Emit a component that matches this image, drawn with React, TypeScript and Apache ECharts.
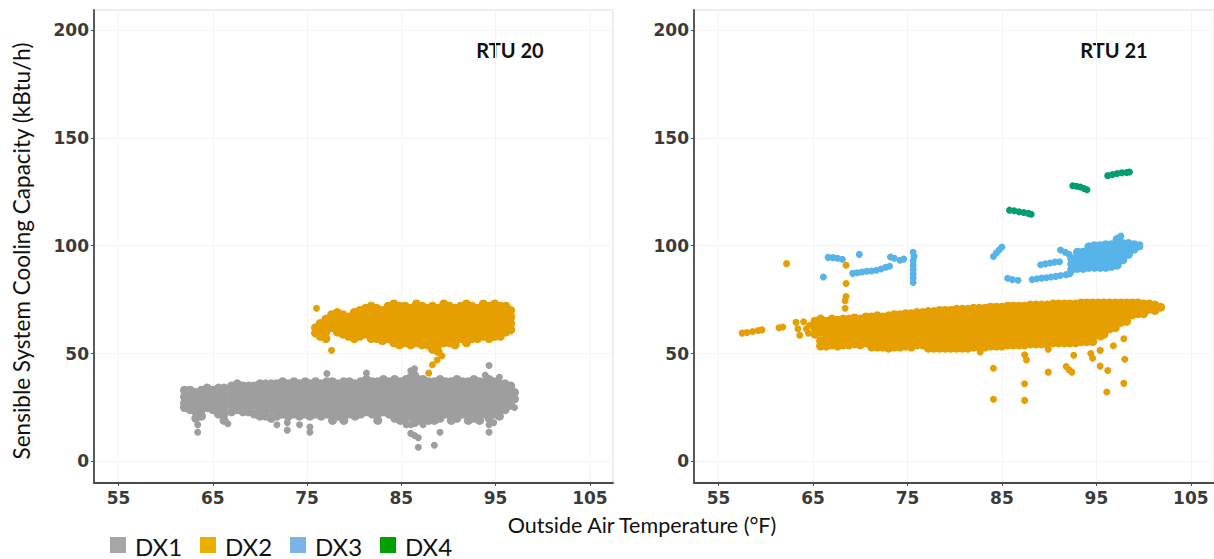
import React, { useEffect, useRef } from "react";
import * as echarts from "echarts";

// ---------- axis ticks / labels ----------
const X_TICKS = [55, 65, 75, 85, 95, 105];
const Y_TICKS = [0, 50, 100, 150, 200];
const X_MIN = 52.4;
const X_MAX = 107.45;
const Y_MIN = -10;
const Y_MAX = 209.3;

const PANEL_TITLES = ["RTU 20", "RTU 21"];
const X_TITLE = "Outside Air Temperature (°F)";
const Y_TITLE = "Sensible System Cooling Capacity (kBtu/h)";

const STAGES = ["DX1", "DX2", "DX3", "DX4"];
const POINT_COLORS = ["#9e9e9e", "#e69f00", "#56b4e9", "#009e73"];
const LEGEND_COLORS = ["#a6a6a6", "#ebad00", "#7ab3e6", "#00a000"];

type Col = [number, number[]];
type Pt = [number, number];

// ---------- RTU 20, DX1 (columns: temperature -> capacities) ----------
const rtu20Dx1Cols: Col[] = [
  [62.0, [33, 30, 27, 25]],
  [62.6, [33, 30, 27, 24]],
  [63.2, [32, 29, 26, 23, 20]],
  [63.8, [33, 30, 27, 24, 21]],
  [64.4, [34, 31, 28, 25]],
  [65.0, [33, 30, 27, 24]],
  [65.6, [34, 31, 28, 25, 22]],
  [66.2, [34, 31, 28, 25, 22, 19]],
  [67.0, [35, 32, 29, 26, 23]],
  [67.6, [36, 33, 30, 27, 24]],
  [68.2, [35, 32, 29, 26, 23]],
  [68.8, [35, 32, 29, 26, 23]],
  [69.4, [35, 32, 29, 26, 22]],
  [70.0, [36, 33, 30, 27, 24, 21]],
  [70.6, [36, 33, 30, 27, 24, 21]],
  [71.2, [36, 33, 30, 27, 24, 20]],
  [71.8, [36, 33, 30, 27, 24, 21]],
  [72.4, [37, 34, 31, 28, 25, 22]],
  [73.0, [36, 33, 30, 27, 24, 21]],
  [73.6, [37, 34, 31, 28, 25, 22]],
  [74.2, [36, 33, 30, 27, 24, 21]],
  [74.8, [37, 34, 31, 28, 25, 22]],
  [75.3, [36, 33, 30, 27, 24, 21]],
  [75.9, [37, 34, 31, 28, 25, 22]],
  [76.5, [36, 33, 30, 27, 24, 21]],
  [77.1, [37, 34, 31, 28, 25, 22]],
  [77.7, [37, 34, 31, 28, 25, 22, 19]],
  [78.3, [36, 33, 30, 27, 24, 21]],
  [78.9, [37, 34, 31, 28, 25, 22, 19]],
  [79.5, [37, 34, 31, 28, 25, 22]],
  [80.1, [36, 33, 30, 27, 24, 21]],
  [80.7, [37, 34, 31, 28, 25, 22]],
  [81.3, [38, 35, 32, 29, 26, 23]],
  [81.9, [37, 34, 31, 28, 25, 22]],
  [82.5, [37, 34, 31, 28, 25, 22, 19]],
  [83.1, [38, 35, 32, 29, 26, 23]],
  [83.7, [37, 34, 31, 28, 25, 22]],
  [84.3, [38, 35, 32, 29, 26, 23, 20]],
  [84.9, [37, 34, 31, 28, 25, 22, 19]],
  [85.5, [38, 35, 32, 29, 26, 23, 20]],
  [86.0, [39, 36, 33, 30, 27, 24, 21]],
  [86.4, [40, 37, 34, 31, 28, 25, 22, 18]],
  [86.8, [38, 35, 32, 29, 26, 23, 19]],
  [87.3, [38, 35, 32, 29, 26, 23, 20]],
  [87.9, [37, 34, 31, 28, 25, 22, 19]],
  [88.5, [37, 34, 31, 28, 25, 22, 19]],
  [89.1, [38, 35, 32, 29, 26, 23, 20]],
  [89.7, [37, 34, 31, 28, 25, 22]],
  [90.3, [37, 34, 31, 28, 25, 22, 19]],
  [90.9, [38, 35, 32, 29, 26, 23, 20]],
  [91.5, [37, 34, 31, 28, 25, 22]],
  [92.1, [37, 34, 31, 28, 25, 22, 19]],
  [92.7, [38, 35, 32, 29, 26, 23, 20]],
  [93.3, [37, 34, 31, 28, 25, 22, 19]],
  [93.9, [37, 34, 31, 28, 25, 22]],
  [94.3, [38, 35, 32, 29, 26, 23, 20]],
  [94.8, [37, 34, 31, 28, 25, 22]],
  [95.4, [36, 33, 30, 27, 24, 21]],
  [96.0, [36, 33, 30, 27, 24]],
  [96.6, [35, 32, 29, 26]],
  [97.0, [32, 29]],
];
const rtu20Dx1Pts: Pt[] = [
  [63.4, 17], [63.4, 13.5], [66.6, 17.5], [71.8, 17], [72.9, 18], [72.9, 14.5],
  [74.2, 17], [75.3, 16], [75.3, 13.5], [77.1, 40.8], [81.3, 41],
  [85.5, 17], [86.0, 42], [86.0, 17], [86.0, 13], [86.4, 43], [86.4, 12],
  [86.8, 11], [86.8, 6.6], [87.3, 17], [88.5, 7.5], [89.1, 13.5],
  [93.9, 40], [94.3, 44.5], [94.3, 17], [94.3, 13.5], [94.8, 18], [95.4, 39], [97.0, 25],
];

// ---------- RTU 20, DX2 ----------
const rtu20Dx2Cols: Col[] = [
  [75.9, [62, 59.5]],
  [76.4, [64, 61, 58]],
  [77.0, [66, 63, 60, 57]],
  [77.6, [68, 65, 62]],
  [78.2, [69, 66, 63, 60]],
  [78.8, [68, 65, 62, 59]],
  [79.4, [67, 64, 61, 58]],
  [80.0, [69, 66, 63, 60, 57]],
  [80.6, [70, 67, 64, 61, 58]],
  [81.2, [71, 68, 65, 62, 59]],
  [81.8, [72, 69, 66, 63, 60, 57]],
  [82.4, [71, 68, 65, 62, 59, 57]],
  [83.0, [70, 67, 64, 61, 58, 56]],
  [83.6, [72, 69, 66, 63, 60, 57]],
  [84.2, [73, 70, 67, 64, 61, 58, 55]],
  [84.8, [72, 69, 66, 63, 60, 57, 54]],
  [85.4, [72, 69, 66, 63, 60, 57, 55]],
  [86.0, [71, 68, 65, 62, 59, 56, 54]],
  [86.6, [73, 70, 67, 64, 61, 58, 55]],
  [87.2, [72, 69, 66, 63, 60, 57, 54]],
  [87.8, [71, 68, 65, 62, 59, 56, 54]],
  [88.3, [72, 69, 66, 63, 60, 57, 55, 52]],
  [88.9, [71, 68, 65, 62, 59, 56, 54, 51]],
  [89.5, [73, 70, 67, 64, 61, 58, 55]],
  [90.1, [72, 69, 66, 63, 60, 57, 55]],
  [90.7, [71, 68, 65, 62, 59, 56, 54]],
  [91.3, [72, 69, 66, 63, 60, 57]],
  [91.9, [73, 70, 67, 64, 61, 58, 55]],
  [92.5, [72, 69, 66, 63, 60, 57]],
  [93.1, [71, 68, 65, 62, 59, 57]],
  [93.7, [73, 70, 67, 64, 61, 58]],
  [94.3, [72, 69, 66, 63, 60, 57]],
  [94.9, [73, 70, 67, 64, 61, 58]],
  [95.5, [72, 69, 66, 63, 60, 58]],
  [96.1, [72, 69, 66, 63, 60]],
  [96.6, [70, 67, 64, 61]],
];
const rtu20Dx2Pts: Pt[] = [
  [76.0, 71], [77.6, 51.5], [87.9, 41], [88.3, 44.8], [88.8, 47], [89.3, 49],
];

// ---------- RTU 21, DX2 ----------
const rtu21Dx2Cols: Col[] = [
  [65.2, [65, 62, 59]],
  [65.8, [66, 63, 60, 56, 53.5]],
  [66.4, [65, 62, 59, 56, 53.5]],
  [67.0, [66, 63, 60, 56.5, 54]],
  [67.6, [65.5, 62.5, 59.5, 56.5, 53.5]],
  [68.2, [66, 63, 60, 57, 54]],
  [68.8, [66, 63, 60, 57, 54]],
  [69.4, [66.5, 63.5, 60.5, 57.5, 54.5]],
  [70.0, [66, 63, 60, 57, 54]],
  [70.6, [67, 64, 61, 58, 55]],
  [71.2, [67, 64, 61, 58, 55, 53]],
  [71.8, [67.5, 64.5, 61.5, 58.5, 55.5, 53]],
  [72.4, [67, 64, 61, 58, 55, 53]],
  [73.0, [67.5, 64.5, 61.5, 58.5, 55.5, 52.5]],
  [73.6, [68, 65, 62, 59, 56, 53]],
  [74.2, [68, 65, 62, 59, 56, 53]],
  [74.8, [68.5, 65.5, 62.5, 59.5, 56.5, 53.5]],
  [75.4, [68.5, 65.5, 62.5, 59.5, 56.5, 53]],
  [76.0, [69, 66, 63, 60, 57, 54]],
  [76.6, [69, 66, 63, 60, 57, 54]],
  [77.2, [69.5, 66.5, 63.5, 60.5, 57.5, 54.5, 52.5]],
  [77.8, [69.5, 66.5, 63.5, 60.5, 57.5, 54.5, 52.5]],
  [78.4, [70, 67, 64, 61, 58, 55, 52.5]],
  [79.0, [70, 67, 64, 61, 58, 55, 52.5]],
  [79.6, [70, 67, 64, 61, 58, 55, 52.5]],
  [80.2, [70.5, 67.5, 64.5, 61.5, 58.5, 55.5, 52.5]],
  [80.8, [70.5, 67.5, 64.5, 61.5, 58.5, 55.5, 52.5]],
  [81.4, [70.5, 67.5, 64.5, 61.5, 58.5, 55.5, 52.5]],
  [82.0, [71, 68, 65, 62, 59, 56, 53]],
  [82.6, [71, 68, 65, 62, 59, 56, 53]],
  [83.2, [71, 68, 65, 62, 59, 56, 53]],
  [83.8, [71.5, 68.5, 65.5, 62.5, 59.5, 56.5, 53.5]],
  [84.4, [71.5, 68.5, 65.5, 62.5, 59.5, 56.5, 53.5]],
  [85.0, [71.5, 68.5, 65.5, 62.5, 59.5, 56.5, 53.5]],
  [85.6, [72, 69, 66, 63, 60, 57, 54]],
  [86.2, [72, 69, 66, 63, 60, 57, 54]],
  [86.8, [72, 69, 66, 63, 60, 57, 54]],
  [87.4, [72, 69, 66, 63, 60, 57, 54]],
  [88.0, [72.5, 69.5, 66.5, 63.5, 60.5, 57.5, 54.5]],
  [88.6, [72.5, 69.5, 66.5, 63.5, 60.5, 57.5, 54.5]],
  [89.2, [72.5, 69.5, 66.5, 63.5, 60.5, 57.5, 54.5]],
  [89.8, [72.5, 69.5, 66.5, 63.5, 60.5, 57.5, 54.5]],
  [90.4, [73, 70, 67, 64, 61, 58, 55]],
  [91.0, [73, 70, 67, 64, 61, 58, 55]],
  [91.6, [73, 70, 67, 64, 61, 58, 55]],
  [92.2, [73, 70, 67, 64, 61, 58, 55]],
  [92.8, [73, 70, 67, 64, 61, 58, 55]],
  [93.4, [73.5, 70.5, 67.5, 64.5, 61.5, 58.5, 55.5]],
  [94.0, [73.5, 70.5, 67.5, 64.5, 61.5, 58.5, 55.5]],
  [94.6, [73.5, 70.5, 67.5, 64.5, 61.5, 58.5, 55.5]],
  [95.2, [73.5, 70.5, 67.5, 64.5, 61.5, 58.5]],
  [95.8, [73.5, 70.5, 67.5, 64.5, 61.5, 59]],
  [96.4, [73.5, 70.5, 67.5, 64.5, 61.5]],
  [97.0, [73.5, 70.5, 67.5, 64.5, 62]],
  [97.6, [73.5, 70.5, 67.5, 64.5]],
  [98.2, [73.5, 70.5, 67.5, 65]],
  [98.8, [73.5, 70.5, 68]],
  [99.4, [73.5, 71, 68.5]],
  [100.0, [73, 70.5, 68.5]],
  [100.6, [73, 70.5]],
  [101.2, [72.5, 70]],
  [101.8, [71.5]],
];
const rtu21Dx2Pts: Pt[] = [
  [57.5, 59.5], [58.0, 59.8], [58.6, 60.2], [59.2, 60.7], [59.6, 61],
  [61.4, 62], [61.8, 62.3], [62.2, 91.7],
  [63.2, 64.5], [63.4, 61.5], [63.6, 58.5], [64.0, 64.8], [64.3, 61.5], [64.6, 63], [64.5, 59.5],
  [68.5, 91], [68.5, 82.5], [68.5, 76.5], [68.4, 74.5], [68.4, 71],
  [82.7, 50.7], [84.1, 43.2], [84.1, 28.8],
  [87.4, 49.5], [87.6, 47], [87.4, 36], [87.4, 28.3],
  [89.9, 52], [89.9, 41.4],
  [91.8, 44], [92.1, 42.5], [92.4, 41.4], [92.6, 49.2],
  [94.4, 50], [94.6, 47.8], [95.4, 51.5], [95.4, 44.2],
  [96.2, 42.2], [96.1, 32.2], [96.8, 53.6], [95.5, 57.7],
  [97.9, 56.9], [98.0, 47.4], [97.9, 36.2],
];

// ---------- RTU 21, DX3 ----------
const rtu21Dx3Cols: Col[] = [
  [92.4, [89, 91.5, 94]],
  [93.0, [89.5, 92, 94.5, 97]],
  [93.6, [89.5, 92, 94.5, 97]],
  [94.2, [90, 92.5, 95, 97.5, 99.5]],
  [94.8, [90, 92.5, 95, 97.5, 100]],
  [95.4, [90, 92.5, 95, 97.5, 100]],
  [96.0, [90, 92.5, 95, 97.5, 100.5]],
  [96.6, [90.5, 93, 95.5, 98, 100.5]],
  [97.2, [91, 93.5, 96, 98.5, 101, 103]],
  [97.8, [93.5, 96, 98.5, 101]],
  [98.4, [96, 98.5, 101]],
  [99.0, [98.5, 100.5]],
];
const rtu21Dx3Pts: Pt[] = [
  [66.1, 85.5],
  [66.6, 94.6], [67.1, 94.5], [67.6, 94.2], [68.1, 93.7],
  [69.9, 96],
  [69.2, 87.2], [69.7, 87.5], [70.2, 87.8], [70.7, 88.2], [71.2, 88.3],
  [71.7, 88.6], [72.2, 89.2], [72.7, 90], [73.1, 90.5],
  [73.2, 94.8], [73.6, 94.2], [74.2, 93.3], [74.6, 93.8],
  [75.6, 97], [75.7, 95], [75.6, 93], [75.6, 91], [75.6, 89], [75.6, 87], [75.6, 85], [75.6, 83],
  [84.1, 95], [84.4, 96.6], [84.7, 98], [85.0, 99.4],
  [85.6, 84.9], [86.1, 84.3], [86.7, 84],
  [88.2, 84.3], [88.7, 84.7], [89.2, 85], [89.7, 85.2], [90.2, 85.5],
  [90.7, 85.8], [91.2, 86.2], [91.8, 86.6], [92.2, 87],
  [89.1, 91.2], [89.6, 91.6], [90.1, 92], [90.6, 92.4], [91.1, 92.6],
  [91.2, 98], [91.7, 97], [92.1, 96],
  [97.6, 104.5], [99.6, 99.5], [99.6, 100.5],
];

// ---------- RTU 21, DX4 ----------
const rtu21Dx4Pts: Pt[] = [
  [85.8, 116.5], [86.3, 116.2], [86.8, 115.8], [87.3, 115.4], [87.8, 115], [88.1, 114.6],
  [92.5, 127.8], [92.9, 127.6], [93.3, 127.2], [93.7, 126.5], [94.0, 126],
  [96.2, 132.5], [96.7, 133], [97.2, 133.5], [97.7, 133.8], [98.2, 134], [98.5, 134.2],
];

const flatten = (cols: Col[]): Pt[] =>
  cols.flatMap(([x, ys]) => ys.map((y) => [x, y] as Pt));

const AXIS_COLOR = "#4a4a4a";
const LABEL_FONT = "DejaVu Sans, Liberation Sans, Arial, sans-serif";
const TEXT_FONT = "Lato, Open Sans, sans-serif";

export default function App() {
  const ref = useRef<HTMLDivElement>(null);

  useEffect(() => {
    if (!ref.current) return;
    const chart = echarts.init(ref.current, null, { renderer: "svg" });

    const grids = [
      { left: 94, top: 10, width: 519, height: 473 },
      { left: 694, top: 10, width: 520, height: 473 },
    ].map((g) => ({
      ...g,
      show: true,
      borderColor: "#dedede",
      borderWidth: 1,
      backgroundColor: "transparent",
      containLabel: false,
    }));

    const xAxis = [0, 1].map((i) => ({
      type: "value",
      gridIndex: i,
      min: X_MIN,
      max: X_MAX,
      axisLine: { show: true, onZero: false, lineStyle: { color: AXIS_COLOR, width: 1.8 } },
      axisTick: { show: true, length: 3, customValues: X_TICKS, lineStyle: { color: AXIS_COLOR, width: 1 } },
      axisLabel: {
        customValues: X_TICKS,
        fontSize: 17,
        fontWeight: "bold",
        color: "#3a3a3a",
        fontFamily: LABEL_FONT,
        margin: 6,
      },
      splitLine: { show: true, lineStyle: { color: "#f5f5f5", width: 1 } },
    }));

    const yAxis = [0, 1].map((i) => ({
      type: "value",
      gridIndex: i,
      min: Y_MIN,
      max: Y_MAX,
      axisLine: { show: true, onZero: false, lineStyle: { color: AXIS_COLOR, width: 1.8 } },
      axisTick: { show: true, length: 3, customValues: Y_TICKS, lineStyle: { color: AXIS_COLOR, width: 1 } },
      axisLabel: {
        customValues: Y_TICKS,
        fontSize: 17,
        fontWeight: "bold",
        color: "#3a3a3a",
        fontFamily: LABEL_FONT,
        margin: 5,
      },
      splitLine: { show: true, lineStyle: { color: "#f5f5f5", width: 1 } },
    }));

    const scatter = (name: string, idx: number, data: Pt[], colorIdx: number, size: number) => ({
      type: "scatter",
      name,
      xAxisIndex: idx,
      yAxisIndex: idx,
      data,
      symbol: "circle",
      symbolSize: size,
      silent: true,
      itemStyle: { color: POINT_COLORS[colorIdx], opacity: 1 },
    });

    const CLOUD = 9;
    const DOT = 7;
    const series = [
      scatter(STAGES[0], 0, flatten(rtu20Dx1Cols), 0, CLOUD),
      scatter(STAGES[0], 0, rtu20Dx1Pts, 0, DOT),
      scatter(STAGES[1], 0, flatten(rtu20Dx2Cols), 1, CLOUD),
      scatter(STAGES[1], 0, rtu20Dx2Pts, 1, DOT),
      scatter(STAGES[2], 1, flatten(rtu21Dx3Cols), 2, CLOUD),
      scatter(STAGES[2], 1, rtu21Dx3Pts, 2, DOT),
      scatter(STAGES[1], 1, flatten(rtu21Dx2Cols), 1, CLOUD),
      scatter(STAGES[1], 1, rtu21Dx2Pts, 1, DOT),
      scatter(STAGES[3], 1, rtu21Dx4Pts, 3, DOT),
    ];

    const legendX = [110, 200, 290, 380];
    const legendGraphics: any[] = [];
    STAGES.forEach((s, i) => {
      legendGraphics.push({
        type: "rect",
        left: legendX[i],
        top: 537,
        shape: { width: 16, height: 16 },
        style: { fill: LEGEND_COLORS[i] },
      });
      legendGraphics.push({
        type: "text",
        x: legendX[i] + 25,
        y: 546,
        style: {
          text: s,
          fontSize: 24,
          fontFamily: TEXT_FONT,
          fill: "#111",
          align: "left",
          verticalAlign: "middle",
        },
      });
    });

    const option: any = {
      animation: false,
      backgroundColor: "#ffffff",
      grid: grids,
      xAxis,
      yAxis,
      series,
      graphic: [
        {
          type: "text",
          x: 21,
          y: 251,
          rotation: Math.PI / 2,
          style: {
            text: Y_TITLE,
            fontSize: 22.5,
            fontFamily: TEXT_FONT,
            fill: "#111",
            align: "center",
            verticalAlign: "middle",
          },
        },
        {
          type: "text",
          x: 642,
          y: 525,
          style: {
            text: X_TITLE,
            fontSize: 21.5,
            fontFamily: TEXT_FONT,
            fill: "#111",
            align: "center",
            verticalAlign: "middle",
          },
        },
        {
          type: "text",
          x: 510,
          y: 50,
          style: {
            text: PANEL_TITLES[0],
            fontSize: 20,
            fontWeight: "bold",
            fontFamily: TEXT_FONT,
            fill: "#111",
            align: "center",
            verticalAlign: "middle",
          },
        },
        {
          type: "text",
          x: 1114,
          y: 50,
          style: {
            text: PANEL_TITLES[1],
            fontSize: 20,
            fontWeight: "bold",
            fontFamily: TEXT_FONT,
            fill: "#111",
            align: "center",
            verticalAlign: "middle",
          },
        },
        ...legendGraphics,
      ],
    };

    chart.setOption(option);
    return () => chart.dispose();
  }, []);

  return (
    <div
      ref={ref}
      style={{ position: "absolute", left: 0, top: 0, width: 1214, height: 559, background: "#fff" }}
    />
  );
}
